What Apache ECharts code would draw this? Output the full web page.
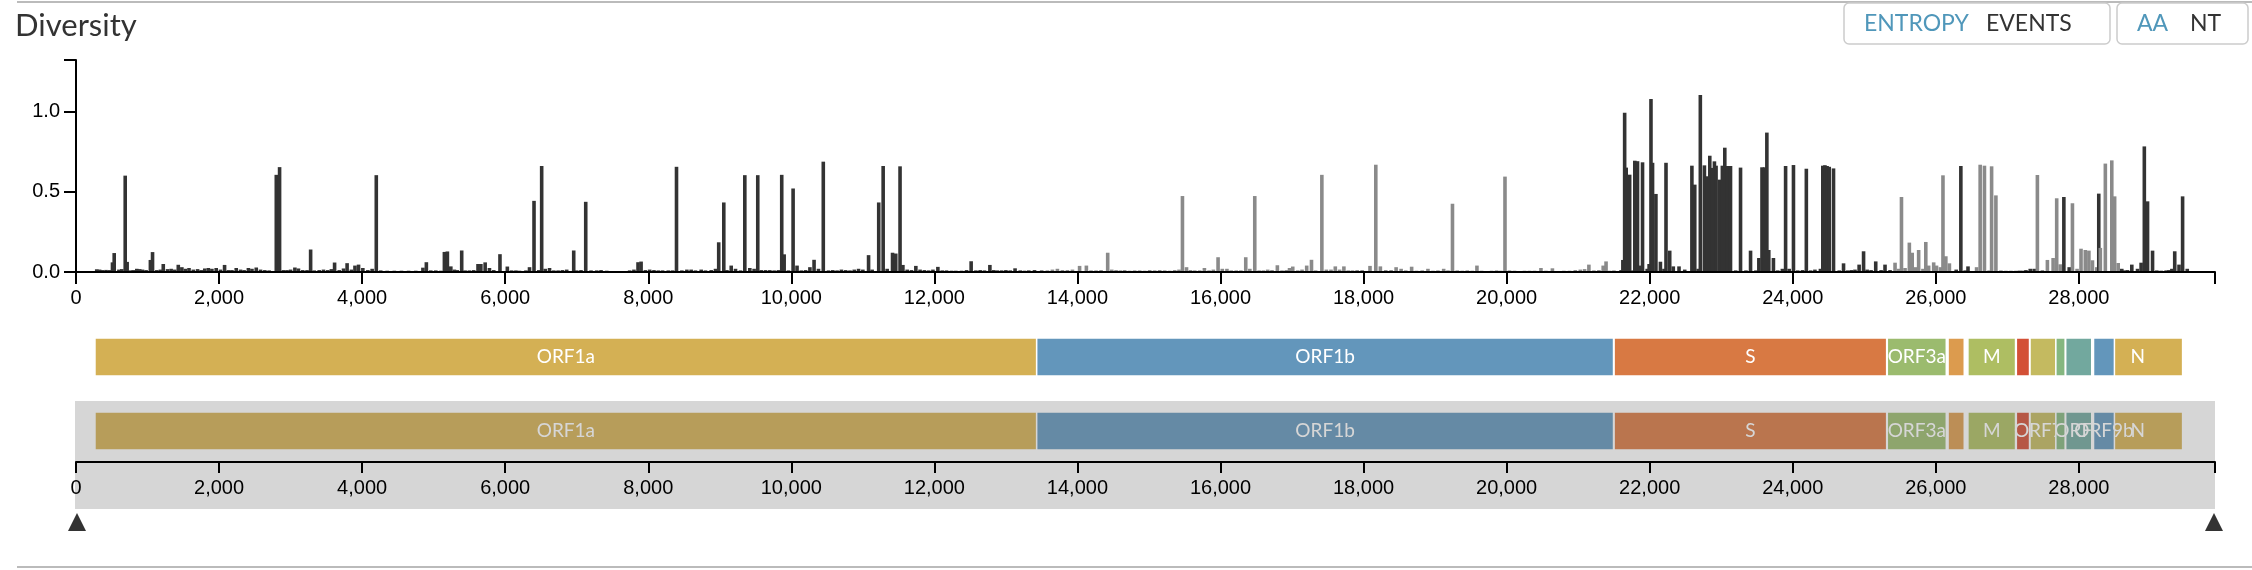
<!DOCTYPE html>
<html>
<head>
<meta charset="utf-8">
<script src="https://cdn.jsdelivr.net/npm/echarts@6/dist/echarts.min.js"></script>
<style>
html,body{margin:0;padding:0;background:#fff;}
#chart{width:2252px;height:570px;}
</style>
</head>
<body>
<div id="chart"></div>
<script>
// ---------- data ----------
const genomeLength = 29903;
const xTickValues = [0,2000,4000,6000,8000,10000,12000,14000,16000,18000,20000,22000,24000,26000,28000];
const yTickValues = [0, 0.5, 1.0];
const yMax = 1.32;

const geneNames  = ['ORF1a','ORF1b','S','ORF3a','E','M','ORF6','ORF7a','ORF7b','ORF8','N','ORF9b'];
const geneStarts = [266,13468,21563,25393,26245,26523,27202,27394,27756,27894,28274,28284];
const geneEnds   = [13468,21555,25384,26220,26472,27191,27387,27759,27887,28259,29533,28577];
const navLabelGenes = ['ORF1a','ORF1b','S','ORF3a','M','ORF7a','ORF8','ORF9b','N'];

const entropyPos = [
 290,330,370,420,470,510,534,600,640,688,715,760,800,850,890,930,980,1040,1070,1130,1180,1220,1280,1330,1380,1430,1480,1530,1580,1640,1700,1750,1800,1850,1900,1960,2020,2077,2130,2180,2240,2300,2350,2410,2460,2520,2580,2640,2700,2800,2846,2900,2950,3000,3060,3110,3170,3230,3280,3330,3400,3460,3520,3570,3615,3680,3740,3790,3850,3900,3950,4010,4080,4140,4198,4260,4350,4450,4550,4650,4750,4850,4898,4960,5030,5100,5150,5192,5240,5290,5330,5392,5440,5500,5560,5620,5660,5720,5780,5840,5927,6030,6090,6150,6200,6290,6340,6403,6470,6510,6560,6620,6680,6740,6800,6860,6958,7000,7060,7126,7200,7280,7340,7420,7500,7580,7660,7740,7800,7857,7900,7960,8020,8080,8140,8200,8280,8340,8395,8470,8540,8600,8660,8740,8800,8880,8940,8985,9056,9100,9160,9220,9290,9350,9420,9480,9531,9580,9640,9700,9760,9820,9866,9900,9960,10025,10080,10140,10200,10260,10318,10380,10447,10520,10580,10640,10700,10760,10820,10880,10940,11000,11080,11130,11222,11284,11340,11415,11460,11520,11560,11620,11680,11741,11800,11860,11920,11980,12049,12110,12170,12240,12300,12380,12450,12514,12580,12640,12700,12776,12830,12880,12940,13000,13060,13128,13200,13260,13320,13400,
 13500,13580,13650,13720,13790,13860,13930,14030,14125,14190,14260,14330,14423,14480,14540,14600,14660,14730,14800,14870,14940,15010,15080,15150,15220,15290,15360,15420,15468,15525,15580,15640,15710,15775,15840,15900,15966,16025,16090,16150,16220,16285,16353,16410,16479,16540,16600,16660,16720,16795,16860,16920,16965,17010,17080,17140,17205,17272,17330,17417,17480,17545,17605,17665,17725,17785,17845,17910,17980,18090,18171,18235,18310,18385,18455,18525,18590,18672,18740,18820,18900,18970,19040,19120,19180,19243,19310,19380,19450,19520,19585,19650,19720,19790,19860,19920,19977,20040,20110,20180,20250,20320,20390,20480,20550,20640,20720,20800,20880,20960,21030,21090,21150,21220,21290,21350,21390,21440,21500,
 21600,21625,21650,21672,21720,21766,21792,21830,21858,21900,21965,21992,22018,22040,22087,22150,22200,22228,22280,22330,22410,22490,22560,22590,22630,22678,22708,22765,22810,22840,22876,22905,22928,22975,23016,23050,23085,23130,23202,23270,23346,23410,23485,23526,23570,23607,23638,23665,23730,23790,23855,23900,23950,24010,24070,24137,24190,24250,24310,24387,24420,24450,24480,24510,24570,24650,24710,24770,24820,24870,24928,24990,25040,25095,25160,25235,25290,25360,
 25430,25480,25520,25570,25630,25670,25715,25760,25820,25860,25900,25970,26010,26065,26100,26140,26190,
 26285,26350,26410,26450,
 26570,26620,26680,26745,26780,26840,26910,26980,27050,27120,27170,
 27215,27260,27320,27375,
 27420,27490,27560,27640,27690,27740,
 27790,27865,
 27910,27975,28030,28090,28140,28190,28250,
 28278,28300,28370,28460,28500,28550,
 28600,28640,28680,28740,28820,28870,28915,28960,29030,29090,29150,29220,29260,29300,29340,29400,29450,29515
];
const entropyVal = [
 0.017,0.015,0.012,0.013,0.012,0.06,0.118,0.015,0.018,0.60,0.063,0.01,0.012,0.02,0.018,0.015,0.012,0.075,0.124,0.012,0.015,0.05,0.018,0.02,0.015,0.045,0.03,0.02,0.025,0.015,0.018,0.012,0.022,0.025,0.02,0.025,0.015,0.044,0.012,0.012,0.025,0.015,0.012,0.025,0.02,0.028,0.015,0.012,0.01,0.605,0.653,0.012,0.012,0.015,0.028,0.022,0.012,0.012,0.14,0.01,0.012,0.015,0.012,0.018,0.059,0.012,0.022,0.055,0.015,0.04,0.046,0.025,0.012,0.02,0.603,0.01,0.008,0.008,0.008,0.008,0.008,0.027,0.061,0.01,0.01,0.008,0.125,0.128,0.035,0.015,0.012,0.134,0.01,0.01,0.012,0.05,0.05,0.06,0.025,0.012,0.111,0.034,0.01,0.01,0.008,0.01,0.03,0.443,0.012,0.66,0.02,0.025,0.01,0.01,0.012,0.015,0.134,0.01,0.012,0.437,0.01,0.01,0.012,0.008,0.005,0.005,0.005,0.01,0.015,0.061,0.065,0.012,0.015,0.012,0.01,0.01,0.01,0.01,0.655,0.01,0.015,0.015,0.01,0.015,0.01,0.012,0.02,0.185,0.433,0.012,0.04,0.02,0.01,0.603,0.025,0.02,0.603,0.012,0.012,0.012,0.01,0.012,0.605,0.11,0.01,0.52,0.04,0.01,0.012,0.03,0.076,0.02,0.687,0.01,0.012,0.01,0.015,0.012,0.01,0.015,0.02,0.015,0.105,0.015,0.433,0.66,0.02,0.12,0.115,0.658,0.044,0.015,0.012,0.038,0.015,0.012,0.01,0.015,0.032,0.01,0.01,0.008,0.008,0.008,0.012,0.067,0.01,0.012,0.01,0.044,0.012,0.01,0.01,0.012,0.01,0.023,0.01,0.008,0.01,0.012,
 0.012,0.01,0.015,0.02,0.012,0.012,0.015,0.038,0.04,0.01,0.01,0.012,0.12,0.015,0.012,0.01,0.012,0.008,0.01,0.01,0.008,0.012,0.01,0.012,0.01,0.008,0.012,0.015,0.473,0.03,0.012,0.01,0.01,0.025,0.01,0.015,0.092,0.02,0.02,0.01,0.01,0.01,0.092,0.02,0.473,0.01,0.01,0.015,0.012,0.042,0.01,0.012,0.025,0.034,0.01,0.015,0.04,0.076,0.01,0.605,0.015,0.015,0.035,0.015,0.035,0.01,0.01,0.012,0.012,0.038,0.668,0.035,0.012,0.012,0.03,0.02,0.01,0.033,0.008,0.01,0.02,0.008,0.01,0.02,0.01,0.425,0.01,0.008,0.01,0.008,0.04,0.008,0.005,0.008,0.01,0.008,0.594,0.01,0.008,0.005,0.008,0.008,0.008,0.025,0.008,0.023,0.005,0.008,0.008,0.012,0.015,0.018,0.046,0.01,0.012,0.04,0.066,0.008,0.01,0.012,
 0.075,0.992,0.65,0.606,0.01,0.693,0.69,0.04,0.683,0.02,0.05,1.077,0.68,0.486,0.064,0.02,0.68,0.133,0.035,0.035,0.015,0.005,0.662,0.544,0.02,1.102,0.664,0.596,0.724,0.648,0.689,0.662,0.575,0.662,0.774,0.66,0.66,0.01,0.65,0.01,0.133,0.01,0.087,0.652,0.652,0.868,0.137,0.087,0.01,0.02,0.66,0.02,0.666,0.01,0.012,0.643,0.01,0.015,0.02,0.662,0.665,0.66,0.655,0.645,0.01,0.054,0.01,0.012,0.015,0.046,0.129,0.015,0.012,0.066,0.012,0.046,0.012,0.058,
 0.02,0.467,0.025,0.183,0.12,0.03,0.137,0.02,0.187,0.04,0.06,0.04,0.03,0.602,0.098,0.054,0.015,
 0.66,0.01,0.035,0.03,
 0.668,0.662,0.01,0.658,0.477,0.01,0.008,0.008,0.008,0.01,0.008,
 0.012,0.02,0.02,0.604,
 0.012,0.075,0.087,0.459,0.048,0.467,
 0.03,0.428,
 0.02,0.145,0.137,0.133,0.073,0.03,0.488,
 0.15,0.675,0.695,0.471,0.056,0.02,
 0.01,0.012,0.046,0.02,0.058,0.782,0.44,0.133,0.01,0.008,0.01,0.012,0.02,0.129,0.046,0.471,0.02,0.606
];

// ---------- styles ----------
const geneColors = ['#D4B054','#6396BB','#D87943','#9BBB6E','#DC9B4E','#AEBE62','#D35036','#C4BA60','#85B780','#72A89E','#D4B054','#6396BB'];
const barDark = '#333333', barLight = '#8a8a8a';
const tickFont = "'Liberation Sans Narrow', 'Liberation Sans', Arial, sans-serif";

function geneIndexAt(pos){
  let idx = -1;
  for (let i = 0; i < geneNames.length; i++) {
    if (pos >= geneStarts[i] && pos <= geneEnds[i]) idx = i;
  }
  return idx;
}
const entropyData = entropyPos.map((p, i) => {
  const g = geneIndexAt(p);
  return [p, entropyVal[i], g < 0 ? 0 : g % 2];
});
const geneData = geneNames.map((n, i) => [geneStarts[i], geneEnds[i], i]);
const fmt = v => Math.round(v).toString().replace(/\B(?=(\d{3})+(?!\d))/g, ',');

const chart = echarts.init(document.getElementById('chart'), null, {renderer: 'canvas'});

function geneRenderer(showAll) {
  return function (params, api) {
    const s = api.value(0), e = api.value(1), i = api.value(2);
    const cs = params.coordSys;
    const x0 = api.coord([s, 0])[0], x1 = api.coord([e, 0])[0];
    const children = [{
      type: 'rect',
      shape: {x: x0, y: cs.y, width: x1 - x0, height: cs.height},
      style: {fill: geneColors[i], stroke: '#fff', lineWidth: 1.5}
    }];
    const name = geneNames[i];
    const show = showAll ? navLabelGenes.indexOf(name) >= 0 : (x1 - x0) > 40;
    if (show) {
      children.push({
        type: 'text',
        x: (x0 + x1) / 2, y: cs.y + cs.height / 2,
        style: {text: name, fill: '#fff', font: '19px Lato', align: 'center', verticalAlign: 'middle'}
      });
    }
    return {type: 'group', children: children};
  };
}

const option = {
  animation: false,
  title: {
    text: 'Diversity', left: 10, top: 5,
    textStyle: {fontFamily: 'Lato', fontSize: 31, fontWeight: 'normal', color: '#333'}
  },
  grid: [
    {left: 76, right: 37, top: 60, height: 212},
    {left: 76, right: 43, top: 338, height: 38},
    {left: 76, right: 43, top: 412, height: 38},
    {left: 76, right: 37, top: 401, height: 61}
  ],
  xAxis: [
    {gridIndex: 0, type: 'value', min: 0, max: genomeLength, z: 10,
     axisLine: {show: true, lineStyle: {color: '#000', width: 2}},
     axisTick: {show: true, length: 12, lineStyle: {color: '#000', width: 2}, customValues: xTickValues.concat([genomeLength])},
     axisLabel: {customValues: xTickValues, formatter: fmt, margin: 16, color: '#000', fontFamily: tickFont, fontSize: 20},
     splitLine: {show: false}},
    {gridIndex: 1, type: 'value', min: 0, max: genomeLength, show: false},
    {gridIndex: 2, type: 'value', min: 0, max: genomeLength, show: false},
    {gridIndex: 3, type: 'value', min: 0, max: genomeLength, z: 10,
     axisLine: {show: true, lineStyle: {color: '#000', width: 2}},
     axisTick: {show: true, length: 11, lineStyle: {color: '#000', width: 2}, customValues: xTickValues.concat([genomeLength])},
     axisLabel: {customValues: xTickValues, formatter: fmt, margin: 16, color: '#000', fontFamily: tickFont, fontSize: 20},
     splitLine: {show: false}}
  ],
  yAxis: [
    {gridIndex: 0, type: 'value', min: 0, max: yMax,
     axisLine: {show: true, lineStyle: {color: '#000', width: 2}},
     axisTick: {show: true, length: 12, lineStyle: {color: '#000', width: 2}, customValues: yTickValues.concat([yMax])},
     axisLabel: {customValues: yTickValues, formatter: v => v.toFixed(1), margin: 16, color: '#000', fontFamily: tickFont, fontSize: 20},
     splitLine: {show: false}},
    {gridIndex: 1, type: 'value', min: 0, max: 1, show: false},
    {gridIndex: 2, type: 'value', min: 0, max: 1, show: false},
    {gridIndex: 3, type: 'value', min: 0, max: 1, show: false}
  ],
  graphic: [
    {type: 'line', shape: {x1: 17, y1: 2, x2: 2252, y2: 2}, style: {stroke: '#bbb', lineWidth: 2}},
    {type: 'line', shape: {x1: 17, y1: 567, x2: 2252, y2: 567}, style: {stroke: '#bbb', lineWidth: 2}},
    {type: 'rect', shape: {x: 1844, y: 3, width: 266, height: 41, r: 5}, style: {fill: '#fff', stroke: '#ccc', lineWidth: 1.5}},
    {type: 'rect', shape: {x: 2117, y: 3, width: 131, height: 41, r: 5}, style: {fill: '#fff', stroke: '#ccc', lineWidth: 1.5}},
    {type: 'text', x: 1864, y: 24, style: {text: 'ENTROPY', fill: '#5097BA', font: '23px Lato', verticalAlign: 'middle'}},
    {type: 'text', x: 1986, y: 24, style: {text: 'EVENTS', fill: '#333', font: '23px Lato', verticalAlign: 'middle'}},
    {type: 'text', x: 2137, y: 24, style: {text: 'AA', fill: '#5097BA', font: '23px Lato', verticalAlign: 'middle'}},
    {type: 'text', x: 2190, y: 24, style: {text: 'NT', fill: '#333', font: '23px Lato', verticalAlign: 'middle'}}
  ],
  series: [
    {
      type: 'custom', name: 'entropy', xAxisIndex: 0, yAxisIndex: 0, z: 2,
      data: entropyData,
      renderItem: function (params, api) {
        const x = api.value(0), v = api.value(1);
        const top = api.coord([x, v]);
        const base = api.coord([x, 0]);
        return {
          type: 'rect',
          shape: {x: top[0] - 1.8, y: top[1], width: 3.6, height: base[1] - top[1]},
          style: {fill: api.value(2) ? barLight : barDark}
        };
      }
    },
    {type: 'custom', name: 'genes', xAxisIndex: 1, yAxisIndex: 1, z: 2, data: geneData, renderItem: geneRenderer(false)},
    {type: 'custom', name: 'navGenes', xAxisIndex: 2, yAxisIndex: 2, z: 2, data: geneData, renderItem: geneRenderer(true)},
    {
      type: 'custom', name: 'navOverlay', xAxisIndex: 3, yAxisIndex: 3, z: 5, clip: false,
      data: [[0, genomeLength]],
      renderItem: function (params, api) {
        const cs = params.coordSys;
        const x0 = api.coord([api.value(0), 0])[0];
        const x1 = api.coord([api.value(1), 0])[0];
        const top = cs.y, bottom = cs.y + 108;
        return {type: 'group', children: [
          {type: 'rect', shape: {x: x0 - 1, y: top, width: x1 - x0 + 1, height: bottom - top},
           style: {fill: 'rgba(108,108,108,0.28)'}},
          {type: 'polygon', shape: {points: [[x0 + 1, bottom + 4], [x0 - 8, bottom + 22], [x0 + 10, bottom + 22]]}, style: {fill: '#333'}},
          {type: 'polygon', shape: {points: [[x1 - 1, bottom + 4], [x1 - 10, bottom + 22], [x1 + 8, bottom + 22]]}, style: {fill: '#333'}}
        ]};
      }
    }
  ]
};
chart.setOption(option);
</script>
</body>
</html>
